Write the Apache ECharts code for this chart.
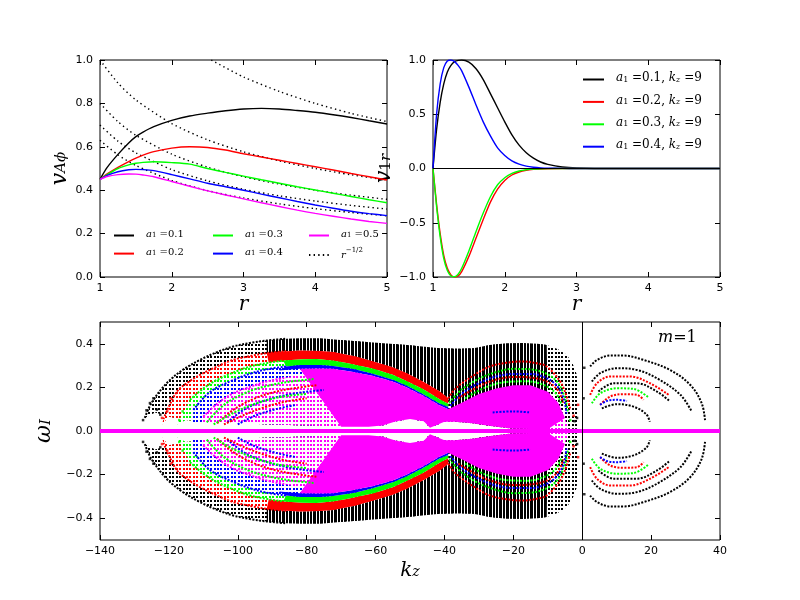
<!DOCTYPE html>
<html><head><meta charset="utf-8">
<script src="https://cdn.jsdelivr.net/npm/echarts@6/dist/echarts.min.js"></script>
</head>
<body style="margin:0;background:#fff">
<div id="c" style="width:800px;height:600px"></div>
<script>
// ---------- top-left: v_Aphi(r) ----------
const rA = [1,1.1,1.25,1.4,1.5,1.6,1.75,2,2.25,2.5,2.75,3,3.25,3.5,3.75,4,4.25,4.5,4.75,5];
const vA_01 = [0.45,0.505,0.565,0.618,0.647,0.668,0.693,0.722,0.742,0.755,0.766,0.774,0.777,0.774,0.767,0.759,0.748,0.735,0.72,0.705];
const vA_02 = [0.45,0.475,0.505,0.532,0.548,0.562,0.578,0.594,0.6,0.597,0.585,0.568,0.553,0.538,0.523,0.508,0.493,0.477,0.462,0.447];
const vA_03 = [0.45,0.472,0.5,0.517,0.524,0.528,0.531,0.527,0.52,0.5,0.482,0.465,0.448,0.432,0.416,0.401,0.386,0.371,0.356,0.342];
const vA_04 = [0.45,0.468,0.485,0.494,0.496,0.495,0.49,0.472,0.452,0.432,0.416,0.4,0.382,0.365,0.348,0.332,0.317,0.303,0.292,0.283];
const vA_05 = [0.45,0.463,0.472,0.475,0.474,0.47,0.462,0.44,0.418,0.397,0.378,0.36,0.342,0.325,0.308,0.293,0.28,0.267,0.256,0.247];
const dot_01 = [[2.55,1.0],[3,0.922],[3.5,0.855],[4,0.8],[4.5,0.754],[5,0.716]];
const dot_02 = [[1,1.0],[1.25,0.894],[1.5,0.816],[2,0.707],[2.5,0.632],[3,0.577],[3.5,0.535],[4,0.5],[4.5,0.471],[5,0.447]];
const dot_03 = [[1,0.8],[1.25,0.716],[1.5,0.653],[2,0.566],[2.5,0.506],[3,0.462],[3.5,0.428],[4,0.4],[4.5,0.377],[5,0.358]];
const dot_04 = [[1,0.7],[1.25,0.626],[1.5,0.572],[2,0.495],[2.5,0.443],[3,0.404],[3.5,0.374],[4,0.35],[4.5,0.33],[5,0.313]];
const dot_05 = [[1,0.63],[1.25,0.563],[1.5,0.514],[2,0.445],[2.5,0.398],[3,0.364],[3.5,0.337],[4,0.315],[4.5,0.297],[5,0.282]];

// ---------- top-right: v_1r(r) ----------
const r1 = [1,1.05,1.1,1.15,1.2,1.25,1.3,1.35,1.4,1.5,1.6,1.7,1.8,1.9,2.0,2.1,2.2,2.3,2.4,2.5,2.6,2.8,3.0,3.5,4,5];
const v1_01 = [0,0.36,0.61,0.78,0.89,0.95,0.985,0.997,1.0,0.98,0.92,0.82,0.69,0.56,0.43,0.31,0.215,0.145,0.095,0.06,0.038,0.014,0.005,0,0,0];
const v1_02 = [0,-0.33,-0.6,-0.8,-0.92,-0.98,-1.0,-0.99,-0.95,-0.81,-0.64,-0.47,-0.31,-0.19,-0.11,-0.06,-0.032,-0.016,-0.008,-0.004,-0.002,0,0,0,0,0];
const v1_03 = [0,-0.35,-0.63,-0.83,-0.94,-0.99,-0.998,-0.975,-0.92,-0.76,-0.58,-0.41,-0.26,-0.15,-0.085,-0.045,-0.023,-0.011,-0.005,-0.002,-0.001,0,0,0,0,0];
const v1_04 = [0,0.5,0.78,0.93,0.99,1.0,0.985,0.95,0.9,0.75,0.585,0.43,0.3,0.19,0.12,0.07,0.04,0.022,0.012,0.006,0.003,0.001,0,0,0,0];

// ---------- bottom: omega_I(k_z) (upper half; spectrum is mirror-symmetric) ----------
const kzTicks = [-140,-120,-100,-80,-60,-40,-20,0,20,40];
const wTicks = [-0.4,-0.2,0,0.2,0.4];
const innerEdge = [[-128,0.1],[-124,0.085],[-120,0.065],[-115,0.05],[-108,0.04],[-100,0.035],[-90,0.03],[-80,0.025],[-70,0.02],[-62,0.02],[-58,0.025],[-54,0.045],[-50,0.055],[-46,0.045],[-44.2,0.015],[-43.5,0.02],[-40,0.042],[-37,0.043],[-32,0.035],[-26,0.022],[-20,0.01],[-10,0.008],[0,0.008]];
const blackTop = [[-127,0.06],[-125,0.13],[-120.6,0.22],[-116,0.28],[-111,0.326],[-106,0.362],[-101.3,0.388],[-96,0.405],[-91.6,0.415],[-86,0.423],[-81.9,0.426],[-76,0.425],[-70.3,0.418],[-60.6,0.406],[-50.9,0.395],[-41.2,0.38],[-36,0.377],[-31.6,0.38],[-26.8,0.395],[-22,0.402],[-17.1,0.404],[-13,0.4],[-10.3,0.395],[-7,0.375],[-4.5,0.35],[-2.8,0.31],[-1.6,0.26],[-1.2,0.15],[-1.2,0.01]];
const redTop = [[-122,0.03],[-121.6,0.054],[-117.7,0.18],[-114,0.228],[-111,0.257],[-106,0.296],[-101.3,0.326],[-96,0.345],[-91.6,0.357],[-86,0.366],[-81.9,0.369],[-76,0.367],[-72.3,0.362],[-66,0.343],[-60.6,0.319],[-55,0.293],[-50.9,0.265],[-46,0.225],[-41.3,0.181],[-38.9,0.15],[-38.9,0.04]];
const greenTop = [[-117.5,0.03],[-117.3,0.043],[-113.9,0.143],[-110,0.195],[-106.1,0.234],[-101,0.27],[-96.4,0.296],[-91,0.313],[-86.8,0.323],[-81,0.329],[-77.1,0.33],[-72,0.322],[-68.4,0.312],[-60.6,0.285],[-55,0.258],[-50.9,0.228],[-46,0.19],[-41.3,0.145],[-38.9,0.125],[-38.9,0.04]];
const blueTop = [[-113,0.04],[-112.9,0.097],[-108,0.18],[-101.3,0.234],[-96,0.265],[-91.6,0.283],[-86,0.296],[-81.9,0.303],[-76,0.303],[-72.3,0.298],[-66,0.283],[-60.6,0.262],[-55,0.235],[-50.9,0.207],[-46,0.168],[-41.3,0.125],[-38.9,0.11],[-38.9,0.04]];
const blueLow = [[-88,0.278],[-82,0.285],[-76,0.287],[-72.3,0.285],[-66,0.27],[-60.6,0.252],[-55,0.227],[-50.9,0.199],[-46,0.16],[-41.3,0.117],[-38.9,0.1]];
const magentaTop = [[-110.5,0.04],[-110,0.066],[-106,0.125],[-101.3,0.173],[-96,0.205],[-91.6,0.227],[-86,0.245],[-81.9,0.26],[-77,0.272],[-72.3,0.275],[-66,0.265],[-60.6,0.25],[-55,0.225],[-50.9,0.197],[-46,0.158],[-41.3,0.115],[-38.9,0.1],[-35,0.13],[-30,0.17],[-25,0.195],[-20,0.21],[-15,0.21],[-10,0.18],[-7,0.13],[-5,0.06],[-4,0.008]];
const innerGreen = [[-109,0.04],[-104,0.12],[-97,0.18],[-90,0.212],[-84,0.228],[-78,0.238]];
const innerRed = [[-106,0.035],[-101,0.1],[-95,0.15],[-89,0.18],[-83,0.198],[-77,0.21]];
const innerBlue = [[-103,0.04],[-98,0.1],[-92,0.14],[-86,0.165],[-80,0.18],[-75,0.188]];
const innerGreen2 = [[-107,0.03],[-101,0.085],[-95,0.125],[-88,0.155],[-80,0.17]];
const innerRed2 = [[-104,0.03],[-98,0.075],[-92,0.11],[-86,0.135],[-80,0.15]];
const innerBlue2 = [[-100,0.03],[-95,0.07],[-89,0.1],[-83,0.12]];
const lobeRed1 = [[-38.9,0.15],[-36.7,0.196],[-31,0.26],[-26.8,0.296],[-22,0.313],[-17.1,0.319],[-13,0.31],[-10.3,0.296],[-6.4,0.227],[-4.5,0.158],[-3.4,0.097]];
const lobeGreen1 = [[-38.6,0.13],[-35,0.19],[-30,0.24],[-25,0.27],[-20,0.285],[-15,0.283],[-10,0.26],[-7,0.22],[-5,0.15],[-4.2,0.09]];
const lobeBlue1 = [[-38.3,0.115],[-35,0.17],[-30,0.22],[-25,0.25],[-20,0.262],[-15,0.262],[-10,0.24],[-7,0.2],[-5.2,0.14],[-4.6,0.08]];
const lobeRed2 = [[-36,0.15],[-30,0.205],[-25,0.235],[-20,0.248],[-15,0.245],[-10,0.225],[-7,0.185],[-5.5,0.13]];
const lobeGreen2 = [[-34,0.15],[-28,0.2],[-22,0.225],[-16,0.228],[-11,0.21],[-7.5,0.17],[-6,0.12]];
const lobeBlue2 = [[-26,0.085],[-20,0.09],[-15,0.085]];
const posBlack1 = [[2.3,0.296],[4.3,0.326],[8.1,0.346],[12,0.346],[17.8,0.326],[25.5,0.28],[31.4,0.211],[34.7,0.127],[35.7,0.043]];
const posBlack2 = [[2.8,0.227],[5.2,0.265],[10.1,0.288],[15.9,0.28],[21.7,0.242],[28.5,0.166],[31.8,0.089]];
const posRed1 = [[2.3,0.166],[4.3,0.219],[8.1,0.25],[13.9,0.25],[19.7,0.219],[25.1,0.166]];
const posBlack3 = [[4.7,0.181],[9.1,0.219],[15.9,0.219],[21.7,0.181],[25.5,0.135]];
const posGreen = [[2.8,0.127],[5.2,0.173],[10.1,0.196],[14.9,0.193],[19.3,0.153]];
const posRed2 = [[5.2,0.12],[8.1,0.158],[12,0.169],[15.9,0.166],[17.8,0.143]];
const posBlue = [[5.2,0.12],[7.2,0.138],[10.1,0.143],[13,0.138]];
const posBlack4 = [[5.7,0.104],[10.1,0.123],[14.9,0.112],[18.6,0.077],[19.6,0.043]];
const tailBlack = [[-127.5,0.05],[-126.5,0.095],[-125.5,0.128],[-124.5,0.15],[-123.5,0.098],[-122.5,0.075],[0.6,0.29],[0.4,0.15],[-1.5,0.06],[-2.2,0.045]];
const tailRed = [[-122,0.06],[-120.5,0.09],[-119.5,0.15],[-1.2,0.12],[-2.5,0.07]];
const tailGreen = [[-117,0.05],[-116,0.09],[-3.5,0.05]];

const K = '#000', R = '#ff0000', G = '#00ff00', B = '#0000ff', M = '#ff00ff';

// ---------- helpers ----------
function pattern(color, kind){
  const c = document.createElement('canvas');
  c.width = 31; c.height = kind === 'sparse' ? 4 : 1;
  const g = c.getContext('2d'); g.fillStyle = color;
  for (let i = 0; i < 9; i++){
    const x0 = Math.round(i*31/9), x1 = Math.round((i+1)*31/9);
    if (kind === 'sparse') g.fillRect(x0, 0, 2, 2);
    else if (kind === 'striped') g.fillRect(x0, 0, x1 - x0 - 1, 1);
    else g.fillRect(x0, 0, x1 - x0, 1);
  }
  return {image: c, repeat: 'repeat'};
}
const inRange = (pts, lo, hi) => pts.filter(p => p[0] >= lo && p[0] <= hi);
function region(top){
  const b = innerEdge.filter(p => p[0] > top[0][0] && p[0] < top[top.length-1][0]).slice().reverse();
  return top.concat(b);
}
function band(upper, lower, lo, hi){ return inRange(upper, lo, hi).concat(inRange(lower, lo, hi).slice().reverse()); }
const mirror = pts => pts.map(p => [p[0], -p[1]]);
function polyS(pts, fill){
  return {type:'custom', xAxisIndex:4, yAxisIndex:4, silent:true, z:2,
    data:[[pts[0][0], pts[0][1]]],
    renderItem:(params, api) => ({type:'polygon', shape:{points: pts.map(p => api.coord(p))}, style:{fill: fill}})};
}
function dotLine(pts, color){
  return {type:'line', xAxisIndex:4, yAxisIndex:4, data:pts, smooth:0.35, symbol:'none', silent:true, z:3,
    lineStyle:{color:color, width:2, type:[2,1.44]}};
}
function both(fn, pts, color){ return [fn(pts, color), fn(mirror(pts), color)]; }
const vKz = -38.9;   // k_z of the V-shaped junction of the coloured bands
const noV = pts => pts.filter(p => !(p[0] === vKz && p[1] < 0.06));

const bottomSeries = [];
// sparse (dotted) coverage of every family
[[blackTop,K],[redTop,R],[greenTop,G],[blueTop,B],[magentaTop,M]].forEach(([top,col]) => {
  const sp = pattern(col,'sparse'), sparse = region(top);
  bottomSeries.push(polyS(sparse, sp), polyS(mirror(sparse), sp));
});
// dense cores: bands between consecutive families
const blackLower = noV(redTop).concat(innerEdge.filter(p => p[0] > vKz));
const magCoreTop = inRange(blueLow, -85, vKz).concat(magentaTop.filter(p => p[0] > vKz && p[0] <= -5));
const magCore = magCoreTop.concat(inRange(innerEdge, -78, -5).slice().reverse());
const bands = [
  [band(blackTop, blackLower, -95, -9), pattern(K,'striped')],
  [band(noV(redTop), noV(greenTop), -92, vKz), pattern(R,'solid')],
  [band(noV(greenTop), noV(blueTop), -90, vKz), pattern(G,'solid')],
  [band(noV(blueTop), blueLow, -88, vKz), pattern(B,'solid')],
  [magCore, pattern(M,'solid')]
];
bands.forEach(([pts,fill]) => bottomSeries.push(polyS(pts, fill), polyS(mirror(pts), fill)));
[[blackTop,K],[redTop,R],[greenTop,G],[blueTop,B],[magentaTop,M]].forEach(([top,col]) => {
  bottomSeries.push(...both(dotLine, top.filter(p => p[0] <= -84 && p[1] > 0.045), col));
});
[[innerGreen,G],[innerRed,R],[innerBlue,B],[innerGreen2,G],[innerRed2,R],[innerBlue2,B],
 [lobeRed1,R],[lobeGreen1,G],[lobeBlue1,B],[lobeRed2,R],[lobeGreen2,G],[lobeBlue2,B],
 [posBlack1,K],[posBlack2,K],[posRed1,R],[posBlack3,K],[posGreen,G],[posRed2,R],[posBlue,B],[posBlack4,K]]
 .forEach(([pts,col]) => bottomSeries.push(...both(dotLine, pts, col)));
[[tailBlack,K],[tailRed,R],[tailGreen,G]].forEach(([pts,col]) => {
  bottomSeries.push({type:'scatter', xAxisIndex:4, yAxisIndex:4, data: pts.concat(mirror(pts)), symbol:'rect', symbolSize:2.5, silent:true, z:3, itemStyle:{color:col}});
});
bottomSeries.push({type:'line', xAxisIndex:4, yAxisIndex:4, data:[[kzTicks[0],0],[kzTicks[kzTicks.length-1],0]], symbol:'none', silent:true, z:4,
  lineStyle:{color:M, width:4},
  markLine:{symbol:'none', silent:true, label:{show:false}, lineStyle:{color:'#000', type:'solid', width:1}, data:[{xAxis:0}]}});

// ---------- text ----------
const SERIF = 'DejaVu Serif';
const mathRich = (fs) => ({
  i:{fontFamily:SERIF, fontStyle:'italic', fontSize:fs, color:'#000', padding:[0,0,3,0]},
  t:{fontFamily:SERIF, fontSize:fs, color:'#000', padding:[0,0,3,0]},
  p:{fontFamily:SERIF, fontSize:fs, color:'#000', padding:[0,0,3,7]},
  s:{fontFamily:SERIF, fontSize:Math.round(fs*0.7), color:'#000'},
  si:{fontFamily:SERIF, fontStyle:'italic', fontSize:Math.round(fs*0.7), color:'#000'},
  sup:{fontFamily:SERIF, fontSize:Math.round(fs*0.7), color:'#000', padding:[0,0,9,0]},
  ib:{fontFamily:SERIF, fontStyle:'italic', fontSize:fs, color:'#000'}
});
const legendText = {
  'a1=0.1':'{p|}{i|a}{s|1}{t| =0.1}', 'a1=0.2':'{p|}{i|a}{s|1}{t| =0.2}', 'a1=0.3':'{p|}{i|a}{s|1}{t| =0.3}',
  'a1=0.4':'{p|}{i|a}{s|1}{t| =0.4}', 'a1=0.5':'{p|}{i|a}{s|1}{t| =0.5}', 'r^-1/2':'{p|}{ib|r}{sup|−1/2}',
  'a1=0.1, kz=9':'{p|}{i|a}{s|1}{t| =0.1, }{i|k}{si|z}{t| =9}', 'a1=0.2, kz=9':'{p|}{i|a}{s|1}{t| =0.2, }{i|k}{si|z}{t| =9}',
  'a1=0.3, kz=9':'{p|}{i|a}{s|1}{t| =0.3, }{i|k}{si|z}{t| =9}', 'a1=0.4, kz=9':'{p|}{i|a}{s|1}{t| =0.4, }{i|k}{si|z}{t| =9}'
};
const minus = v => (v < 0 ? '−' : '') + Math.abs(v);
const minus1 = v => (v < 0 ? '−' : '') + Math.abs(v).toFixed(1);

const tick = () => ({show:true, inside:true, length:5, lineStyle:{color:'#000', width:1}});
const lab = {color:'#000', fontSize:11, fontFamily:'DejaVu Sans', margin:6};
function xA(grid, min, max, interval, fmt, name, show){
  return {type:'value', gridIndex:grid, min, max, interval, position: show ? 'bottom' : 'top',
    axisLine:{show:false, onZero:false}, splitLine:{show:false}, axisTick:tick(),
    axisLabel: show ? Object.assign({formatter:fmt}, lab) : {show:false},
    name: show ? name : '', nameLocation:'middle', nameGap:13, nameTextStyle:{rich:mathRich(20)}};
}
function yA(grid, min, max, interval, fmt, name, gap, show){
  return {type:'value', gridIndex:grid, min, max, interval, position: show ? 'left' : 'right',
    axisLine:{show:false, onZero:false}, splitLine:{show:false}, axisTick:tick(),
    axisLabel: show ? Object.assign({formatter:fmt}, lab, {margin:7}) : {show:false},
    name: show ? name : '', nameLocation:'middle', nameRotate:90, nameGap:gap, nameTextStyle:{rich:mathRich(22)}};
}
const xAxes = [
  xA(0,1,5,1,v=>v,'{ib|r}',true), xA(0,1,5,1,null,'',false),
  xA(1,1,5,1,v=>v,'{ib|r}',true), xA(1,1,5,1,null,'',false),
  xA(2,-140,40,20,minus,'{i|k}{si|z}',true), xA(2,-140,40,20,null,'',false)
];
xAxes[4].nameGap = 21;
const yAxes = [
  yA(0,0,1,0.2,v=>v.toFixed(1),'{i|v}{si|Aϕ}',26,true), yA(0,0,1,0.2,null,'',0,false),
  yA(1,-1,1,0.5,minus1,'{i|v}{s|1}{si|r}',20,true), yA(1,-1,1,0.5,null,'',0,false),
  yA(2,-0.5,0.5,null,minus1,'{i|ω}{si|I}',34,true), yA(2,-0.5,0.5,null,null,'',0,false)
];
[4,5].forEach(i => {
  yAxes[i].axisTick = Object.assign({customValues:wTicks}, tick());
  if (i === 4) yAxes[i].axisLabel.customValues = wTicks;
  delete yAxes[i].interval;
});

function ln(name, x, y, xi, yi, color, dotted){
  return {name, type:'line', xAxisIndex:xi, yAxisIndex:yi, data: x ? x.map((r,i)=>[r,y[i]]) : y,
    symbol:'none', smooth:0.25, silent:true, itemStyle:{color: dotted ? '#000' : color},
    lineStyle: dotted ? {color:'#000', width:1.4, type:[1.4,3.2]} : {color, width:1.4}};
}
const series = [
  ln('r^-1/2',null,dot_01,0,0,K,true), ln('d2',null,dot_02,0,0,K,true), ln('d3',null,dot_03,0,0,K,true),
  ln('d4',null,dot_04,0,0,K,true), ln('d5',null,dot_05,0,0,K,true),
  ln('a1=0.1',rA,vA_01,0,0,K), ln('a1=0.2',rA,vA_02,0,0,R), ln('a1=0.3',rA,vA_03,0,0,G),
  ln('a1=0.4',rA,vA_04,0,0,B), ln('a1=0.5',rA,vA_05,0,0,M),
  Object.assign(ln('a1=0.1, kz=9',r1,v1_01,2,2,K), {markLine:{symbol:'none', silent:true, label:{show:false}, lineStyle:{color:'#000', type:'solid', width:1.2}, data:[{yAxis:0}]}}),
  ln('a1=0.2, kz=9',r1,v1_02,2,2,R), ln('a1=0.3, kz=9',r1,v1_03,2,2,G), ln('a1=0.4, kz=9',r1,v1_04,2,2,B)
].concat(bottomSeries);

function leg(data, left, top, gap, fs){
  return {data, left, top, orient:'vertical', padding:0, itemWidth:20, itemHeight:14, itemGap:gap,
    selectedMode:false, itemStyle:{opacity:0}, formatter: n => legendText[n], textStyle:{rich:mathRich(fs)}};
}
const option = {
  animation:false, backgroundColor:'#fff',
  grid:[
    {left:100, top:60, width:287, height:217, show:true, borderColor:'#000', borderWidth:1, backgroundColor:'transparent'},
    {left:433, top:60, width:287, height:217, show:true, borderColor:'#000', borderWidth:1, backgroundColor:'transparent'},
    {left:100, top:322, width:620, height:218, show:true, borderColor:'#000', borderWidth:1, backgroundColor:'transparent'}
  ],
  xAxis:xAxes, yAxis:yAxes,
  legend:[
    leg(['a1=0.1','a1=0.2'],113,229,6,10), leg(['a1=0.3','a1=0.4'],212,229,6,10), leg(['a1=0.5','r^-1/2'],308,229,6,10),
    Object.assign(leg(['a1=0.1, kz=9','a1=0.2, kz=9','a1=0.3, kz=9','a1=0.4, kz=9'],582,72,9.3,12),{itemWidth:21})
  ],
  graphic:[{type:'text', left:658, top:330, silent:true,
    style:{text:'{i|m}{t|=1}', rich:{i:{fontFamily:SERIF, fontStyle:'italic', fontSize:16, color:'#000'}, t:{fontFamily:SERIF, fontSize:16, color:'#000'}}}}],
  series
};
const chart = echarts.init(document.getElementById('c'));
chart.setOption(option);
</script>
</body></html>
